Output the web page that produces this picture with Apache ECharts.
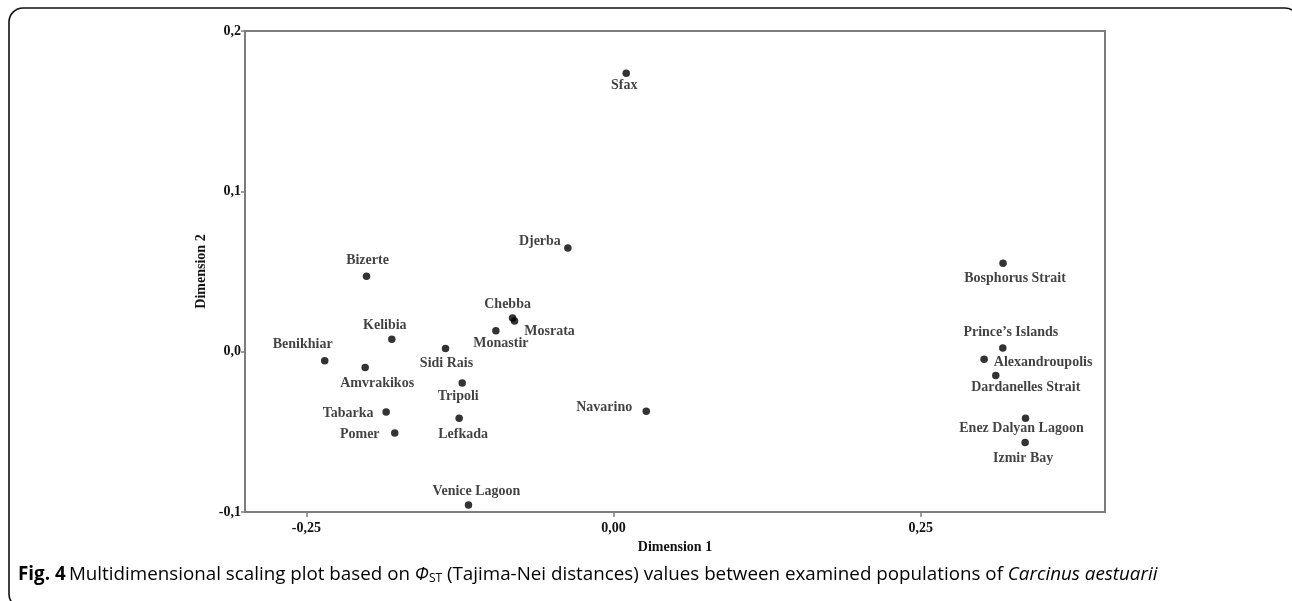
<!DOCTYPE html>
<html>
<head>
<meta charset="utf-8">
<script src="https://cdn.jsdelivr.net/npm/echarts@6/dist/echarts.min.js"></script>
<style>
  html, body { margin: 0; padding: 0; background: #ffffff; }
  #chart { width: 1292px; height: 601px; }
</style>
</head>
<body>
<div id="chart"></div>
<script>
// MDS coordinates of the Carcinus aestuarii populations
const populations = [
  'Sfax', 'Djerba', 'Bizerte', 'Chebba', 'Mosrata', 'Monastir', 'Kelibia',
  'Sidi Rais', 'Benikhiar', 'Amvrakikos', 'Tripoli', 'Tabarka', 'Lefkada',
  'Pomer', 'Venice Lagoon', 'Navarino', 'Bosphorus Strait', 'Prince\u2019s Islands',
  'Alexandroupolis', 'Dardanelles Strait', 'Enez Dalyan Lagoon', 'Izmir Bay'
];
const dimension1 = [
  0.0103, -0.0372, -0.2011, -0.0822, -0.0806, -0.0958, -0.1805,
  -0.1368, -0.2351, -0.2022, -0.1232, -0.1851, -0.1257,
  -0.1781, -0.1181, 0.0266, 0.3170, 0.3168,
  0.3016, 0.3111, 0.3353, 0.3350
];
const dimension2 = [
  0.1736, 0.0647, 0.0470, 0.0210, 0.0192, 0.0131, 0.0077,
  0.0019, -0.0056, -0.0098, -0.0195, -0.0376, -0.0416,
  -0.0507, -0.0957, -0.0372, 0.0551, 0.0023,
  -0.0048, -0.0148, -0.0416, -0.0566
];
const xTicks = [-0.25, 0, 0.25];
const yTicks = [-0.1, 0, 0.1, 0.2];

// label placement around each dot: [dx, dy] of the label centre in pixels
const labelOffsets = {
  'Sfax': [-2, 12], 'Djerba': [-28, -7], 'Bizerte': [1, -16], 'Chebba': [-5, -14],
  'Mosrata': [35, 11], 'Monastir': [5, 13], 'Kelibia': [-7, -14], 'Sidi Rais': [1, 15],
  'Benikhiar': [-22, -16], 'Amvrakikos': [12, 16], 'Tripoli': [-4, 13],
  'Tabarka': [-38, 1], 'Lefkada': [4, 16], 'Pomer': [-35, 1], 'Venice Lagoon': [8, -14],
  'Navarino': [-42, -4], 'Bosphorus Strait': [12, 15], 'Prince\u2019s Islands': [8, -16],
  'Alexandroupolis': [59, 3], 'Dardanelles Strait': [30, 12],
  'Enez Dalyan Lagoon': [-4, 10], 'Izmir Bay': [-2, 16]
};

const serif = '"Liberation Serif", "Times New Roman", serif';
const sans = '"Open Sans", "Noto Sans", sans-serif';
const axisGray = '#7d7d7d';
const ink = '#111111';
const comma = (v, d) => v.toFixed(d).replace('.', ',');

const points = populations.map((name, i) => ({
  name: name,
  value: [dimension1[i], dimension2[i]],
  label: { offset: labelOffsets[name] }
}));

const chart = echarts.init(document.getElementById('chart'), null, { renderer: 'canvas' });
chart.setOption({
  animation: false,
  backgroundColor: '#ffffff',
  grid: {
    left: 245, top: 31, right: 187, bottom: 89,
    show: true, borderColor: axisGray, borderWidth: 2, backgroundColor: 'transparent'
  },
  xAxis: {
    type: 'value', min: -0.3, max: 0.4,
    name: 'Dimension 1', nameLocation: 'middle', nameGap: 22,
    nameTextStyle: { fontFamily: serif, fontWeight: 'bold', fontSize: 14, color: ink },
    axisLine: { show: true, onZero: false, lineStyle: { color: axisGray, width: 2 } },
    axisTick: { show: true, length: 5, customValues: xTicks, lineStyle: { color: axisGray, width: 1.5 } },
    axisLabel: {
      customValues: xTicks, margin: 9, formatter: v => comma(v, 2),
      fontFamily: serif, fontWeight: 'bold', fontSize: 14, color: ink
    },
    splitLine: { show: false }
  },
  yAxis: {
    type: 'value', min: -0.1, max: 0.2, interval: 0.1,
    name: 'Dimension 2', nameLocation: 'middle', nameGap: 32, nameRotate: 90,
    nameTextStyle: { fontFamily: serif, fontWeight: 'bold', fontSize: 14, color: ink },
    axisLine: { show: true, onZero: false, lineStyle: { color: axisGray, width: 2 } },
    axisTick: { show: true, length: 4, lineStyle: { color: axisGray, width: 1.5 } },
    axisLabel: {
      margin: 4, formatter: v => comma(v, 1),
      fontFamily: serif, fontWeight: 'bold', fontSize: 14, color: ink
    },
    splitLine: { show: false }
  },
  series: [{
    type: 'scatter',
    symbol: 'circle',
    symbolSize: 7.5,
    itemStyle: { color: '#000000' },
    data: points,
    label: {
      show: true, position: 'inside', formatter: '{b}',
      fontFamily: serif, fontWeight: 'bold', fontSize: 14, color: ink
    },
    emphasis: { disabled: true }
  }],
  graphic: [
    {
      type: 'rect', silent: true,
      shape: { x: 9, y: 8, width: 1290, height: 600, r: 14 },
      style: { fill: 'none', stroke: '#111111', lineWidth: 1.6 }
    },
    {
      type: 'text', left: 18, top: 565, silent: true,
      style: {
        text: '{b|Fig. 4} {n|Multidimensional scaling plot based on }{i|\u03A6}{s|ST}{n| (Tajima-Nei distances) values between examined populations of }{i|Carcinus aestuarii}',
        rich: {
          b: { fontFamily: sans, fontWeight: 'bold', fontSize: 18.8, color: '#222222', lineHeight: 24 },
          n: { fontFamily: sans, fontSize: 18.8, color: '#222222', lineHeight: 24 },
          i: { fontFamily: sans, fontStyle: 'italic', fontSize: 18.8, color: '#222222', lineHeight: 24 },
          s: { fontFamily: sans, fontSize: 12, color: '#222222', lineHeight: 24, padding: [8, 0, 0, 0] }
        }
      }
    }
  ]
});
</script>
</body>
</html>
